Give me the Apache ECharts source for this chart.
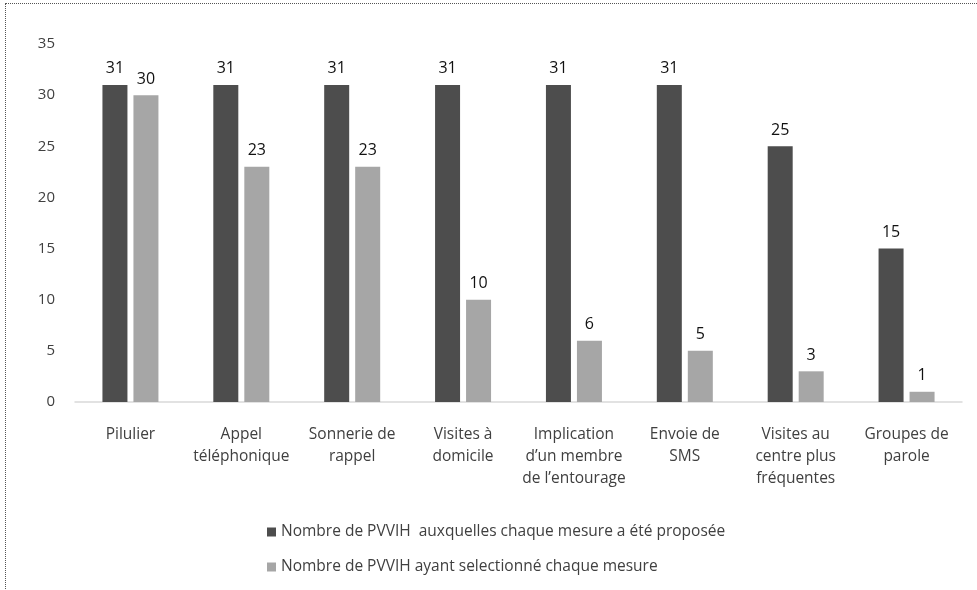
<!DOCTYPE html>
<html><head><meta charset="utf-8">
<script src="https://cdn.jsdelivr.net/npm/echarts@6/dist/echarts.min.js"></script>
<style>
html,body{margin:0;padding:0;background:#fff;}
#frame{position:absolute;left:5px;top:3px;width:1000px;height:620px;border:1px dotted #555;box-sizing:border-box;}
#c{position:absolute;left:0;top:0;width:977px;height:590px;}
</style></head><body>
<div id="frame"></div>
<div id="c"></div>
<script>
const categories = ["Pilulier","Appel\ntéléphonique","Sonnerie de\nrappel","Visites à\ndomicile","Implication\nd’un membre\nde l’entourage","Envoie de\nSMS","Visites au\ncentre plus\nfréquentes","Groupes de\nparole"];
const proposed = [31,31,31,31,31,31,25,15];
const selected = [30,23,23,10,6,5,3,1];
const seriesNames = ["Nombre de PVVIH  auxquelles chaque mesure a été proposée","Nombre de PVVIH ayant selectionné chaque mesure"];
const yTicks = {min:0,max:35,interval:5};
const font = "'Open Sans', 'Noto Sans', sans-serif";
const chart = echarts.init(document.getElementById('c'));
chart.setOption({
  animation:false,
  grid:{left:75,right:15,top:44,bottom:188,containLabel:false},
  legend:{
    orient:'vertical', left:262, top:517, itemGap:15, itemWidth:9, itemHeight:9,
    icon:'rect',
    textStyle:{color:'#404040',fontSize:15.5,fontFamily:font,lineHeight:20},
    data:seriesNames
  },
  xAxis:{type:'category',data:categories,
    axisLine:{lineStyle:{color:'#d9d9d9',width:1.5}},axisTick:{show:false},
    axisLabel:{color:'#404040',fontSize:15.5,fontFamily:font,lineHeight:22,margin:22,interval:0}},
  yAxis:{type:'value',min:yTicks.min,max:yTicks.max,interval:yTicks.interval,
    splitLine:{show:false},axisLine:{show:false},axisTick:{show:false},
    axisLabel:{color:'#404040',fontSize:15,fontFamily:font,margin:20}},
  series:[
    {name:seriesNames[0],type:'bar',data:proposed,barWidth:25,barGap:'24%',
     itemStyle:{color:'#4d4d4d'},
     label:{show:true,position:'top',color:'#111',fontSize:16,fontFamily:font,distance:8}},
    {name:seriesNames[1],type:'bar',data:selected,barWidth:25,
     itemStyle:{color:'#a6a6a6'},
     label:{show:true,position:'top',color:'#111',fontSize:16,fontFamily:font,distance:8}}
  ]
});
</script></body></html>
